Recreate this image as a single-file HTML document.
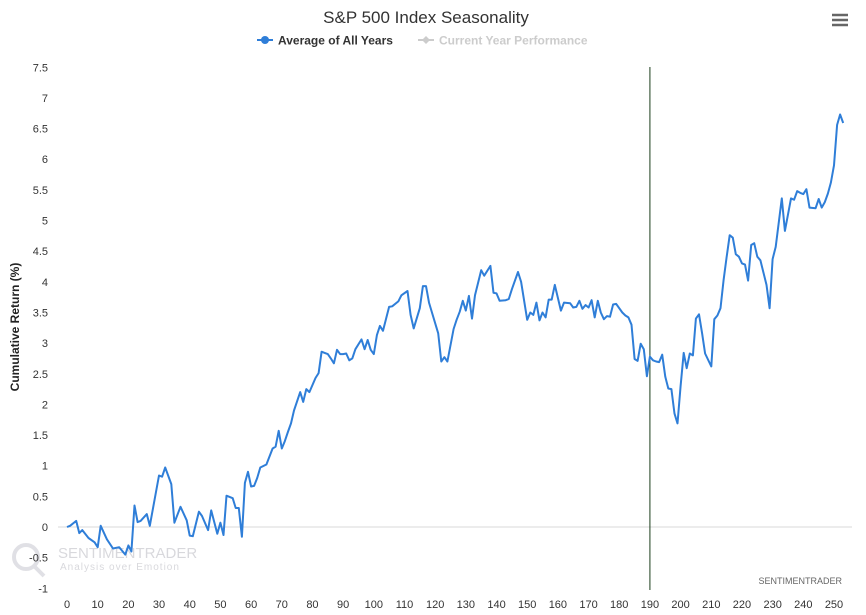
<!DOCTYPE html>
<html><head><meta charset="utf-8"><style>
body{margin:0;background:#fff;font-family:"Liberation Sans",sans-serif;}
svg{display:block}
</style></head><body>
<svg id="chart" width="866" height="615" xmlns="http://www.w3.org/2000/svg" font-family="Liberation Sans, sans-serif">
<text x="426" y="23" text-anchor="middle" font-size="17" fill="#333">S&amp;P 500 Index Seasonality</text>
<g>
<line x1="257" y1="40" x2="273" y2="40" stroke="#2f7ed8" stroke-width="2"/><circle cx="265" cy="40" r="4" fill="#2f7ed8"/>
<text x="278" y="44.5" font-size="12" font-weight="bold" fill="#333">Average of All Years</text></g>
<g>
<line x1="418" y1="40" x2="434" y2="40" stroke="#ccc" stroke-width="2"/><path d="M426 36 L430 40 L426 44 L422 40Z" fill="#ccc"/>
<text x="439" y="44.5" font-size="12" font-weight="bold" fill="#ccc">Current Year Performance</text></g>
<g stroke="#666" stroke-width="2.5">
<line x1="832" y1="15" x2="848" y2="15"/><line x1="832" y1="20" x2="848" y2="20"/><line x1="832" y1="25" x2="848" y2="25"/></g>
<text transform="translate(19,327) rotate(-90)" text-anchor="middle" font-size="12" font-weight="bold" fill="#222">Cumulative Return (%)</text>
<g opacity="0.25">
<circle cx="26" cy="557" r="12" fill="none" stroke="#889" stroke-width="4"/><line x1="34" y1="566" x2="44" y2="576" stroke="#889" stroke-width="4"/>
<text x="58" y="558" font-size="15" fill="#667">SENTIMENTRADER</text>
<text x="60" y="570" font-size="10" fill="#667" letter-spacing="1">Analysis over Emotion</text></g>
<text x="842" y="584" text-anchor="end" font-size="9" fill="#666">SENTIMENTRADER</text>
<g id="axes"></g><g id="series"></g>
</svg>
<script>
const yTicks=[-1,-0.5,0,0.5,1,1.5,2,2.5,3,3.5,4,4.5,5,5.5,6,6.5,7,7.5];
const xTicks=[0,10,20,30,40,50,60,70,80,90,100,110,120,130,140,150,160,170,180,190,200,210,220,230,240,250];
const days=[0,1,3,4,5,7,9,10,11,13,15,17,19,20,21,22,23,24,26,27,30,31,32,34,35,37,39,40,41,43,44,46,47,49,50,51,52,54,55,56,57,58,59,60,61,62,63,65,67,68,69,70,71,72,73,74,76,77,78,79,81,82,83,84,85,86,87,88,89,90,91,92,93,94,96,97,98,99,100,101,102,103,105,106,108,109,111,112,113,115,116,117,118,121,122,123,124,126,127,128,129,130,131,132,133,135,136,138,139,140,141,143,144,145,147,148,150,151,152,153,154,155,156,157,158,159,161,162,164,165,166,167,168,169,170,171,172,173,174,175,176,177,178,179,181,182,183,184,185,186,187,188,189,190,191,192,193,194,195,196,197,198,199,200,201,202,203,204,205,206,207,208,210,211,212,213,214,215,216,217,218,219,220,221,222,223,224,225,226,228,229,230,231,233,234,236,237,238,239,240,241,242,244,245,246,247,248,249,250,251,252,253];
const values=[0,0.02,0.1,-0.1,-0.05,-0.18,-0.25,-0.33,0.02,-0.2,-0.35,-0.33,-0.45,-0.3,-0.4,0.35,0.08,0.1,0.21,0.02,0.84,0.82,0.97,0.7,0.07,0.33,0.11,-0.14,-0.15,0.25,0.18,-0.05,0.27,-0.11,0.07,-0.13,0.51,0.47,0.31,0.31,-0.16,0.72,0.9,0.66,0.67,0.8,0.97,1.02,1.28,1.31,1.57,1.28,1.4,1.55,1.69,1.9,2.2,2.04,2.25,2.2,2.43,2.51,2.86,2.84,2.82,2.75,2.67,2.89,2.82,2.82,2.83,2.72,2.75,2.9,3.06,2.9,3.05,2.89,2.82,3.13,3.28,3.2,3.59,3.6,3.68,3.78,3.85,3.46,3.24,3.57,3.93,3.93,3.66,3.16,2.7,2.77,2.7,3.23,3.38,3.51,3.69,3.53,3.77,3.4,3.78,4.19,4.1,4.26,3.82,3.81,3.69,3.7,3.72,3.88,4.16,4.0,3.38,3.5,3.46,3.66,3.37,3.5,3.42,3.71,3.71,3.95,3.53,3.66,3.65,3.58,3.59,3.69,3.56,3.62,3.58,3.7,3.42,3.69,3.5,3.39,3.44,3.43,3.63,3.64,3.5,3.45,3.42,3.3,2.74,2.71,2.99,2.9,2.46,2.78,2.72,2.7,2.69,2.81,2.45,2.26,2.25,1.85,1.69,2.3,2.84,2.59,2.83,2.8,3.4,3.47,3.16,2.83,2.62,3.39,3.45,3.57,4.03,4.4,4.76,4.72,4.45,4.41,4.3,4.28,4.02,4.6,4.63,4.41,4.35,3.95,3.57,4.37,4.57,5.36,4.83,5.36,5.34,5.48,5.45,5.43,5.51,5.21,5.2,5.35,5.21,5.3,5.44,5.62,5.9,6.56,6.73,6.59];
const markerDay=190;
const X=d=>67+d*3.068, Y=v=>527-v*61.3;
const NS="http://www.w3.org/2000/svg";
const axes=document.getElementById('axes'), series=document.getElementById('series');
function mk(tag,attrs,parent){const e=document.createElementNS(NS,tag);for(const k in attrs)e.setAttribute(k,attrs[k]);parent.appendChild(e);return e;}
for(const t of yTicks){
 const tx=mk('text',{x:48,y:Y(t)+4,'text-anchor':'end','font-size':11,fill:'#333'},axes);
 
 
 tx.textContent=String(t);
}
const zl=mk('line',{x1:58,x2:852,y1:Y(0),y2:Y(0),stroke:'#d8d8d8','stroke-width':1},axes);


for(const t of xTicks){
 const tx=mk('text',{x:X(t),y:608,'text-anchor':'middle','font-size':11,fill:'#333'},axes);
 
 
 tx.textContent=String(t);
}
const vl=mk('line',{x1:X(markerDay),x2:X(markerDay),y1:67,y2:590,stroke:'#1b3d1b','stroke-width':1},series);


const pts=days.map((d,i)=>X(d).toFixed(1)+','+Y(values[i]).toFixed(1)).join(' ');
const pl=mk('polyline',{points:pts,fill:'none',stroke:'#2f7ed8','stroke-width':2,'stroke-linejoin':'round'},series);


</script>
</body></html>
